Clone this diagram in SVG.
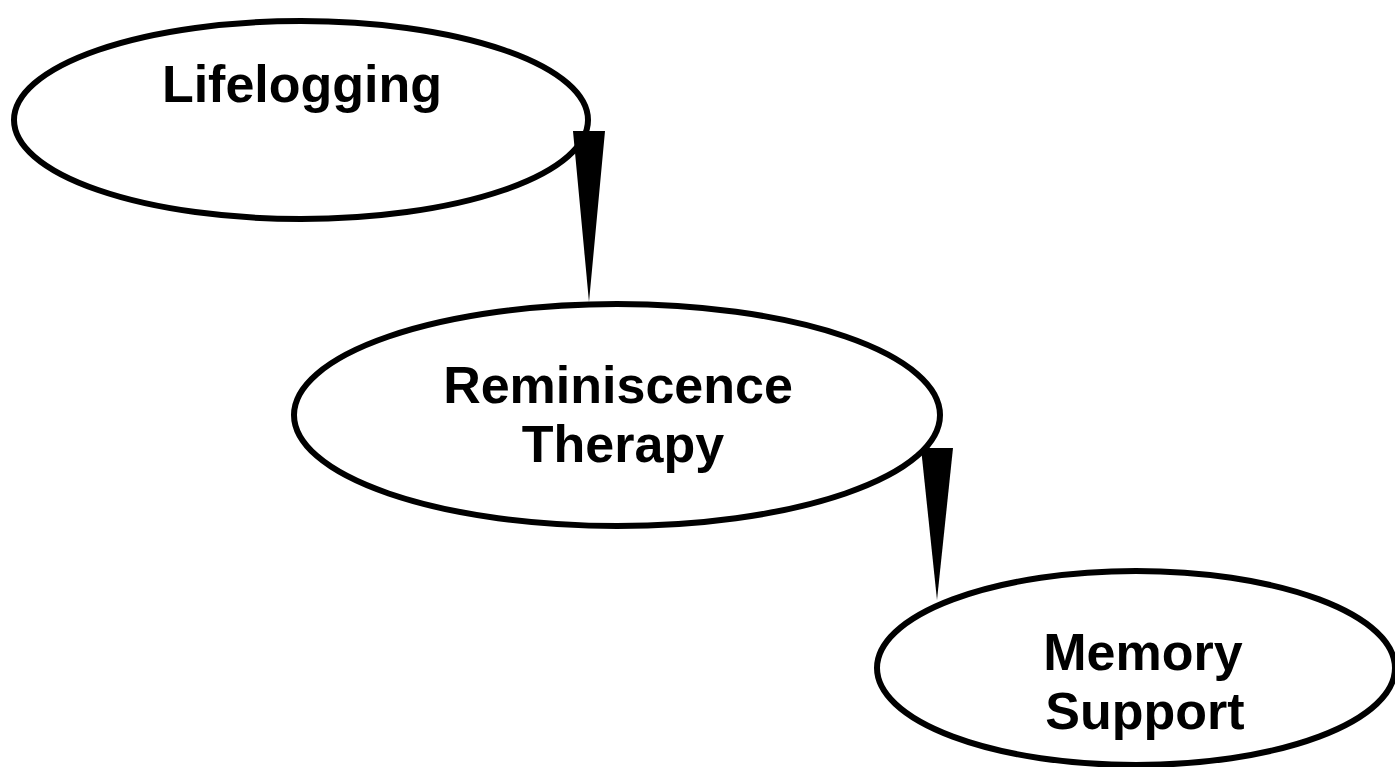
<svg xmlns="http://www.w3.org/2000/svg" width="1395" height="767" viewBox="0 0 1395 767">
<style>
.node ellipse{fill:#fff;stroke:#000;stroke-width:6}
.node text{font-family:"Liberation Sans",Arial,sans-serif;font-weight:bold;font-size:52px;fill:#000;text-anchor:middle}
.wedge{fill:#000;stroke:none}
</style>
<rect width="1395" height="767" fill="#fff"/>
<g id="n1" class="node">
<ellipse cx="301" cy="120" rx="287" ry="99"/>
<text x="302" y="102">Lifelogging</text>
</g>
<g id="n2" class="node">
<ellipse cx="617" cy="415" rx="323" ry="111"/>
<text x="618" y="403">Reminiscence</text>
<text x="623" y="462">Therapy</text>
</g>
<g id="n3" class="node">
<ellipse cx="1136" cy="668" rx="259" ry="97"/>
<text x="1143" y="670">Memory</text>
<text x="1145" y="729">Support</text>
</g>
<g id="connectors">
<polygon class="wedge" points="573,131 605,131 589,302"/>
<polygon class="wedge" points="921,448 953,448 937,600"/>
</g>
</svg>
